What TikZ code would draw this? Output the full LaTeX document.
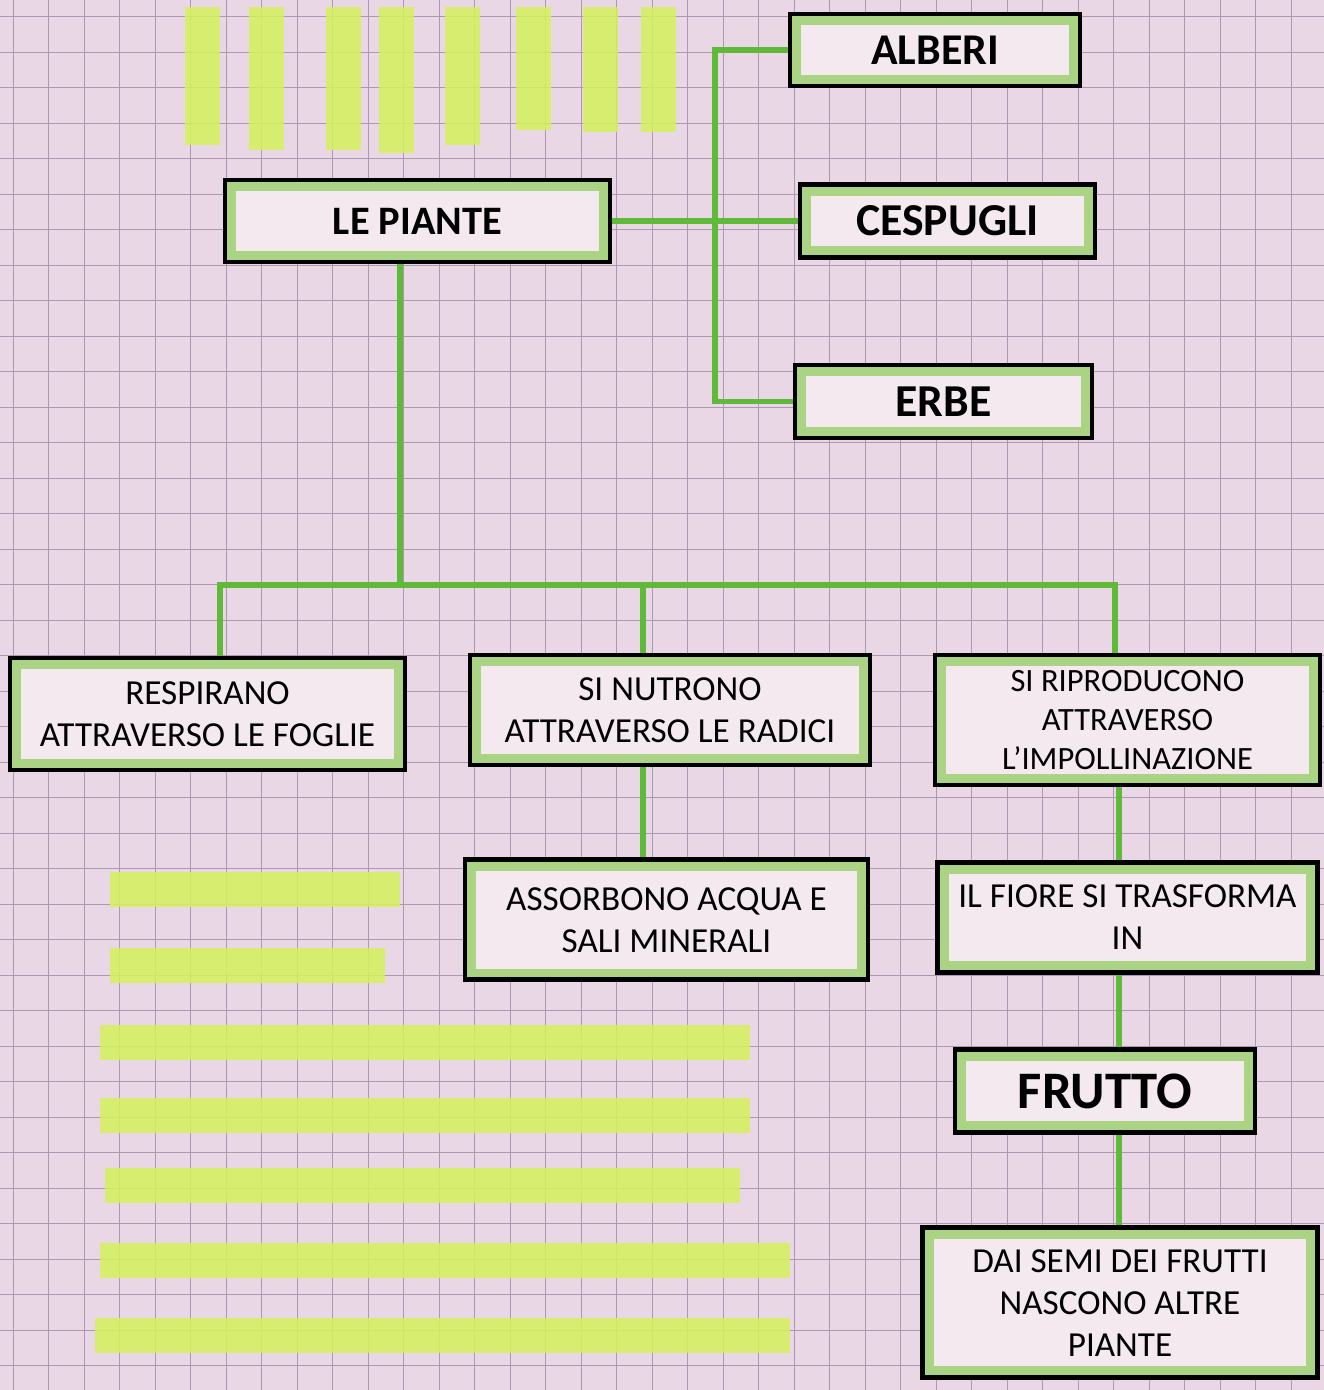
\documentclass[tikz,border=0pt]{standalone}
\usepackage{fontspec}
\setmainfont{Carlito}
\usepackage{xcolor}
\usepackage{tikz}
\usetikzlibrary{positioning,calc}

\definecolor{paper}{RGB}{234,215,230}
\definecolor{gridline}{RGB}{172,152,180}
\definecolor{card}{RGB}{243,233,239}
\definecolor{crayon}{RGB}{170,212,132}
\definecolor{stem}{RGB}{96,186,58}
\definecolor{marker}{RGB}{212,242,92}

\begin{document}
\begin{tikzpicture}[
    box/.style={rectangle, draw=black, line width=2.8pt, fill=card, align=center,
        font=\fontsize{20}{24}\selectfont,
        path picture={\draw [crayon, line width=13pt] (path picture bounding box.south west) rectangle (path picture bounding box.north east);}},
    title/.style={box, font=\bfseries\fontsize{25}{30}\selectfont},
    link/.style={stem, line width=3.4pt},
    felt/.style={marker, line width=0.7cm, opacity=0.85}
]
    \useasboundingbox (0,0) rectangle (26.48,-27.8);
    \fill [paper] (0,0) rectangle (26.48,-27.8);
    \foreach \x in {0,...,37}
        \draw [gridline, line width=0.5pt] ({0.26+0.71*\x},0) -- ({0.26+0.71*\x},-27.8);
    \foreach \y in {0,...,39}
        \draw [gridline, line width=0.5pt] (0,{-0.33-0.71*\y}) -- (26.48,{-0.33-0.71*\y});

    \foreach \x/\y in {4.04/2.9, 5.32/3.0, 6.86/3.0, 7.92/3.05, 9.24/2.9, 10.66/2.6, 12.0/2.65, 13.16/2.65}
        \draw [felt] (\x,-0.15) -- (\x,-\y);
    \foreach \y/\a/\b in {17.78/2.2/8.0, 19.3/2.2/7.7, 20.84/2.0/15.0, 22.3/2.0/15.0, 23.7/2.1/14.8, 25.2/2.0/15.8, 26.7/1.9/15.8}
        \draw [felt] (\a,-\y) -- (\b,-\y);

    \node (piante) [title, font=\bfseries\fontsize{23}{28}\selectfont, minimum width=7.7cm, minimum height=1.64cm] at (8.35,-4.42) {LE PIANTE};
    \node (alberi) [title, minimum width=5.8cm, minimum height=1.44cm] at (18.7,-1.0) {ALBERI};
    \node (cespugli) [title, font=\bfseries\fontsize{26}{30}\selectfont, minimum width=5.9cm, minimum height=1.46cm] at (18.95,-4.42) {CESPUGLI};
    \node (erbe) [title, font=\bfseries\fontsize{26}{30}\selectfont, minimum width=5.94cm, minimum height=1.46cm] at (18.87,-8.03) {ERBE};

    \node (respirano) [box, minimum width=7.9cm, minimum height=2.24cm] at (4.15,-14.28) {RESPIRANO\\ATTRAVERSO LE FOGLIE};
    \node (nutrono) [box, minimum width=8cm, minimum height=2.2cm] at (13.4,-14.2) {SI NUTRONO\\ATTRAVERSO LE RADICI};
    \node (riproducono) [box, font=\fontsize{18.5}{22}\selectfont, minimum width=7.7cm, minimum height=2.6cm] at (22.55,-14.4) {SI RIPRODUCONO\\ATTRAVERSO\\L’IMPOLLINAZIONE};

    \node (assorbono) [box, below=1.8cm of nutrono, xshift=-0.07cm, minimum width=8.06cm, minimum height=2.4cm] {ASSORBONO ACQUA E\\SALI MINERALI};
    \node (fiore) [box, below=1.45cm of riproducono, minimum width=7.6cm, minimum height=2.2cm] {IL FIORE SI TRASFORMA\\IN};
    \node (frutto) [title, font=\bfseries\fontsize{30}{34}\selectfont, below=1.45cm of fiore, xshift=-0.45cm, minimum width=6cm, minimum height=1.66cm] {FRUTTO};
    \node (semi) [box, below=1.8cm of frutto, xshift=0.3cm, minimum width=7.9cm, minimum height=3.0cm] {DAI SEMI DEI FRUTTI\\NASCONO ALTRE\\PIANTE};

    \coordinate (split) at (14.3,-4.42);
    \coordinate (bus) at (8.0,-11.7);
    \coordinate (root) at ($(nutrono.south)+(-0.54,0)$);

    \draw [link] (piante.east) -- (split) -- (cespugli.west);
    \draw [link] (alberi.west) -| (split) |- (erbe.west);
    \draw [link] (bus |- piante.south) -- (bus);
    \draw [link] ([xshift=0.25cm]respirano.north) |- (bus) -| ([xshift=-0.25cm]riproducono.north);
    \draw [link] (bus) -| ([xshift=-0.54cm]nutrono.north);
    \draw [link] (root) -- (root |- assorbono.north);
    \draw [link] ([xshift=-0.17cm]riproducono.south) -- ([xshift=-0.17cm]fiore.north);
    \draw [link] ([xshift=-0.17cm]fiore.south) -- ([xshift=0.28cm]frutto.north);
    \draw [link] ([xshift=0.28cm]frutto.south) -- ([xshift=-0.02cm]semi.north);
\end{tikzpicture}
\end{document}
